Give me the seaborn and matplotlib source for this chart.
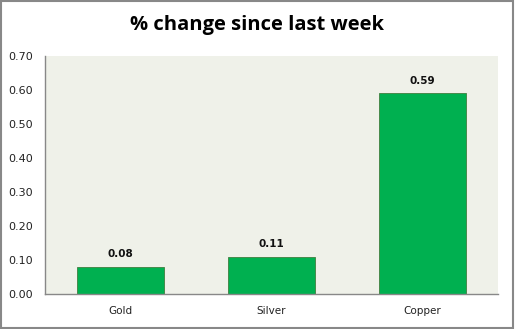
import matplotlib
matplotlib.use("Agg")
import matplotlib.pyplot as plt
import seaborn as sns
import pandas as pd
from matplotlib.patches import Rectangle

categories = ["Gold", "Silver", "Copper"]
values = [0.08, 0.11, 0.59]
yticks = [0.0, 0.1, 0.2, 0.3, 0.4, 0.5, 0.6, 0.7]

sns.set_theme(style="white")
plt.rcParams['font.family'] = ['DejaVu Sans']

df = pd.DataFrame({"metal": categories, "change": values})

fig = plt.figure(figsize=(5.15, 3.29), dpi=100)
ax = fig.add_axes([45/515, 1-294/329, 453/515, 238/329])
ax.set_facecolor("#EFF1E9")
sns.barplot(data=df, x="metal", y="change", color="#00B050", width=0.58,
            edgecolor="#3f7f3f", linewidth=0.6, saturation=1, ax=ax)
ax.set_ylim(0, 0.7)
ax.set_yticks(yticks)
ax.set_yticklabels([f"{t:.2f}" for t in yticks], fontsize=8, color="#222222")
ax.tick_params(axis="x", labelsize=7.5, colors="#222222", pad=9, length=0)
ax.tick_params(axis="y", length=0, pad=8.5)
ax.set_xlabel("")
ax.set_ylabel("")
for s in ["top", "right"]:
    ax.spines[s].set_visible(False)
for s in ["left", "bottom"]:
    ax.spines[s].set_color("#888888")
    ax.spines[s].set_linewidth(1)
for p, v in zip(ax.patches, values):
    ax.text(p.get_x() + p.get_width()/2, v + 0.022, f"{v:.2f}", ha="center", va="bottom",
            fontsize=7.5, fontweight="bold", color="#111111")
fig.text(0.5, 1-25/329, "% change since last week", ha="center", va="center",
         fontsize=14.5, fontweight="bold", family="Open Sans", color="#000000")
fig.patches.append(Rectangle((0.002, 0.003), 0.994, 0.994, transform=fig.transFigure,
                             fill=False, edgecolor="#888888", linewidth=1.5))
fig.savefig("out.png", dpi=100)
